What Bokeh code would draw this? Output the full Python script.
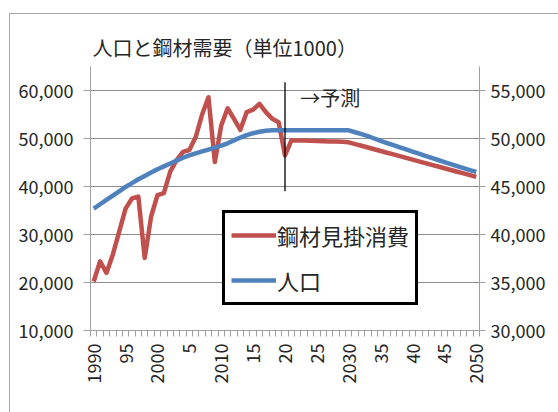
import math
from bokeh.plotting import figure
from bokeh.models import (Range1d, LinearAxis, FixedTicker, NumeralTickFormatter,
                          Legend, LegendItem)
from bokeh.core.properties import value
from bokeh.embed import file_html
from bokeh.resources import INLINE

# ---------------- data ----------------
years = list(range(1990, 2051))

steel = [20200, 24400, 22000, 25800, 30600, 35400, 37500, 37900, 25100, 33700,
         38200, 38600, 43100, 45500, 47200, 47600, 50300, 55000, 58600, 45100,
         52700, 56300, 54100, 51800, 55500, 56000, 57200, 55500, 54100, 53400,
         46500, 49600, 49600, 49600, 49550, 49500, 49450, 49400, 49350, 49300,
         49200, 48840, 48480, 48120, 47760, 47400, 47040, 46680, 46320, 45960,
         45600, 45240, 44880, 44520, 44160, 43800, 43440, 43080, 42720, 42360,
         42000]

population = [42700, 43150, 43600, 44050, 44500, 44950, 45350, 45750, 46100, 46450,
              46800, 47100, 47400, 47700, 48000, 48250, 48450, 48650, 48850, 49050,
              49250, 49500, 49800, 50100, 50350, 50550, 50700, 50800, 50850, 50850,
              50850, 50850, 50850, 50850, 50850, 50850, 50850, 50850, 50850, 50850,
              50850, 50650, 50450, 50250, 50000, 49750, 49520, 49300, 49080, 48860,
              48640, 48420, 48200, 47980, 47760, 47540, 47330, 47120, 46910, 46710,
              46520]

x_tick_years = [1990, 1995, 2000, 2005, 2010, 2015, 2020, 2025, 2030, 2035, 2040, 2045, 2050]
x_tick_labels = ["1990", "95", "2000", "5", "2010", "15", "20", "25", "2030", "35", "40", "45", "2050"]
left_ticks = [10000, 20000, 30000, 40000, 50000, 60000]
right_ticks = [30000, 35000, 40000, 45000, 50000, 55000]

forecast_year = 2020
forecast_line_y = [39000, 61700]
forecast_label = "→予測"
forecast_label_pos = (2022.4, 58550)

title = "人口と鋼材需要（単位1000）"
series_names = ["鋼材見掛消費", "人口"]

# ---------------- styling ----------------
JP = "Noto Sans CJK JP"
TXT = "#262626"
RED = "#C0504D"
BLUE = "#4F81BD"
GRID = "#8c8c8c"
AXIS = "#a0a0a0"

p = figure(width=549, height=399,
           x_range=Range1d(1989.5, 2050.5), y_range=Range1d(10000, 65000),
           output_backend="svg", toolbar_location=None,
           min_border_left=80, min_border_right=80,
           min_border_top=52, min_border_bottom=83,
           margin=(13, 0, 0, 9),
           styles={"border-left": "1px solid #a6a6a6", "border-top": "1px solid #a6a6a6"})
p.outline_line_color = None
p.background_fill_color = "white"
p.border_fill_color = "white"

p.title.text = title
p.title.text_font = JP
p.title.text_font_size = "20px"
p.title.text_font_style = "normal"
p.title.text_color = TXT
p.title.align = "left"
p.title.offset = 2
p.title.standoff = 9

# x axis
xa = p.xaxis[0]
xa.ticker = FixedTicker(ticks=x_tick_years,
                        minor_ticks=[y - 0.5 for y in years] + [years[-1] + 0.5])
xa.major_label_overrides = {y: l for y, l in zip(x_tick_years, x_tick_labels)}
xa.major_label_orientation = math.pi / 2
xa.major_tick_out = 0
xa.major_tick_in = 0
xa.minor_tick_out = 6
xa.minor_tick_in = 0
xa.minor_tick_line_color = AXIS
xa.axis_line_color = AXIS
xa.major_label_standoff = 7
xa.major_label_text_font = JP
xa.major_label_text_font_size = "18px"
xa.major_label_text_color = TXT
p.xgrid.visible = False

# left axis
ya = p.yaxis[0]
ya.ticker = FixedTicker(ticks=left_ticks)
ya.formatter = NumeralTickFormatter(format="0,0")
ya.major_tick_out = 7
ya.major_tick_in = 0
ya.major_tick_line_color = AXIS
ya.minor_tick_line_color = None
ya.axis_line_color = AXIS
ya.major_label_standoff = 10
ya.major_label_text_font = JP
ya.major_label_text_font_size = "18px"
ya.major_label_text_color = TXT
p.ygrid.ticker = FixedTicker(ticks=left_ticks)
p.ygrid.grid_line_color = GRID

# right axis
p.extra_y_ranges = {"pop": Range1d(30000, 57500)}
ra = LinearAxis(y_range_name="pop", ticker=FixedTicker(ticks=right_ticks),
                formatter=NumeralTickFormatter(format="0,0"))
ra.major_tick_out = 6
ra.major_tick_in = 0
ra.major_tick_line_color = AXIS
ra.minor_tick_line_color = None
ra.axis_line_color = AXIS
ra.major_label_standoff = 5
ra.major_label_text_font = JP
ra.major_label_text_font_size = "18px"
ra.major_label_text_color = TXT
p.add_layout(ra, "right")

# series
r1 = p.line(years, steel, line_color=RED, line_width=4.5, line_join="round")
r2 = p.line(years, population, y_range_name="pop", line_color=BLUE, line_width=4.5,
            line_join="round")

# forecast marker
p.segment(x0=[forecast_year], y0=[forecast_line_y[0]], x1=[forecast_year],
          y1=[forecast_line_y[1]], line_color="black", line_width=1.3)
p.text(x=[forecast_label_pos[0]], y=[forecast_label_pos[1]], text=[forecast_label],
       text_font=value(JP), text_font_size="20px", text_color=TXT,
       text_baseline="middle", text_align="left")

legend = Legend(items=[LegendItem(label=series_names[0], renderers=[r1]),
                       LegendItem(label=series_names[1], renderers=[r2])],
                location=(132, 25), border_line_color="black", border_line_width=3,
                border_line_alpha=1.0,
                label_text_font=JP, label_text_font_size="22px", label_text_color=TXT,
                glyph_width=45, glyph_height=20, label_standoff=1,
                spacing=13, padding=6, margin=0, background_fill_color="white",
                background_fill_alpha=1.0)
p.add_layout(legend)

open("out.html", "w").write(file_html(p, INLINE))
